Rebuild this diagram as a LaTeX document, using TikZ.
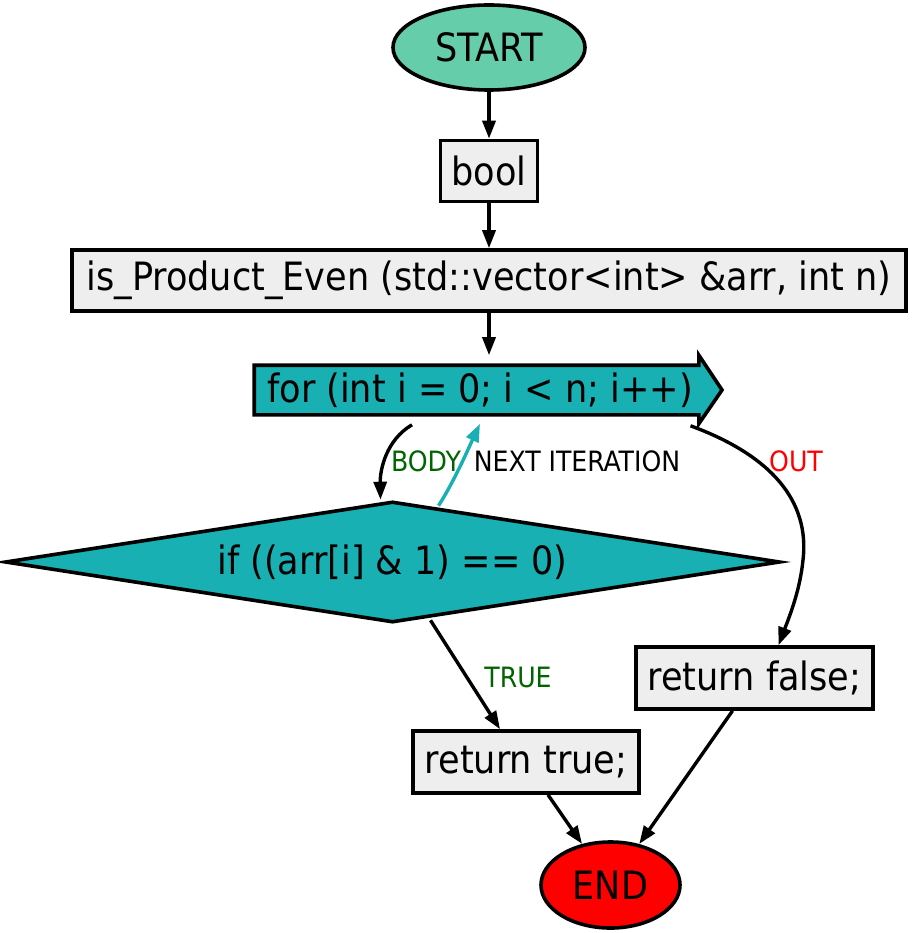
\documentclass[tikz,border=0pt]{standalone}
\usepackage{fontspec}
\setmainfont{DejaVu Sans Condensed}
\usetikzlibrary{shapes.geometric,arrows.meta}
\definecolor{startc}{RGB}{102,205,170}
\definecolor{boxc}{RGB}{238,238,238}
\definecolor{tealc}{RGB}{24,176,178}
\definecolor{lblgreen}{RGB}{0,100,0}
\tikzset{
  mainfont/.style={font=\fontsize{39}{42}\selectfont},
  base/.style={draw=black, line width=3.6pt, inner sep=0pt, mainfont},
  term/.style={base, ellipse},
  procbox/.style={base, rectangle, fill=boxc},
  edge/.style={line width=3.4pt, -{Triangle[length=18pt,width=13pt]}},
  lbl/.style={font=\fontsize{28}{30}\selectfont, inner sep=0pt},
}
\begin{document}
\begin{tikzpicture}[x=1pt,y=-1pt]
\useasboundingbox (0,0) rectangle (911,933);
% nodes
\node[term, fill=startc, minimum width=192pt, minimum height=85pt] (start) at (489,47.5) {START};
\node[procbox, minimum width=97pt, minimum height=61pt] (bool) at (489,171) {bool};
\node[procbox, minimum width=834pt, minimum height=61pt] (func) at (489,280.5) {is\_Product\_Even (std::vector<int> \&arr, int n)};
\node[base, draw=none, minimum width=441pt, minimum height=46pt] (forn) at (476.5,390) {};
\filldraw[line width=3.6pt, fill=tealc, line join=miter]
  (forn.north west) -- (forn.north east) -- ++(0,10pt) -- (722,390)
  -- ([yshift=-9pt]forn.south east) -- (forn.south east) -- (forn.south west) -- cycle;
\node[mainfont, inner sep=0pt] (fortext) at (480,390) {for (int i = 0; i < n; i++)};
\node[base, diamond, fill=tealc, aspect=6.4, minimum width=775pt, minimum height=121pt] (dia) at (392.5,562) {if ((arr[i] \& 1) == 0)};
\node[procbox, minimum width=226pt, minimum height=62pt] (rtrue) at (526,762) {return true;};
\node[procbox, minimum width=237pt, minimum height=62pt] (rfalse) at (754.5,678) {return false;};
\node[term, fill=red, minimum width=139pt, minimum height=86pt] (end) at (610.5,885) {END};
% edges
\draw[edge] (start) -- (bool);
\draw[edge] (bool) -- (func);
\draw[edge] (func.south) -- ([yshift=10pt]forn.north -| func.south);
\draw[edge] ([xshift=-64.5pt,yshift=-10pt]forn.south) .. controls (386,440) and (380,470) .. ([xshift=-12pt]dia.north);
\draw[edge, draw=tealc, -{Triangle[length=18pt,width=13pt,fill=tealc]}, color=tealc] ([xshift=46pt,yshift=-6pt]dia.north) .. controls (455,480) and (470,445) .. ([xshift=3.5pt,yshift=-9pt]forn.south);
\draw[edge] ([xshift=214pt,yshift=-11pt]forn.south) .. controls (770,455) and (810,500) .. (803,560) .. controls (800,590) and (790,615) .. ([xshift=24pt]rfalse.north);
\draw[edge] ([xshift=38pt,yshift=4pt]dia.south) -- ([xshift=-26pt]rtrue.north);
\draw[edge] ([xshift=22pt]rtrue.south) -- (end);
\draw[edge] ([xshift=-22pt]rfalse.south) -- (end);
% labels
\node[lbl, text=lblgreen] (lbody) at (426,461) {BODY};
\node[lbl] (lnext) at (577,461) {NEXT ITERATION};
\node[lbl, text=red] (lout) at (796,461) {OUT};
\node[lbl, text=lblgreen] (ltrue) at (518,677) {TRUE};
\end{tikzpicture}
\end{document}
